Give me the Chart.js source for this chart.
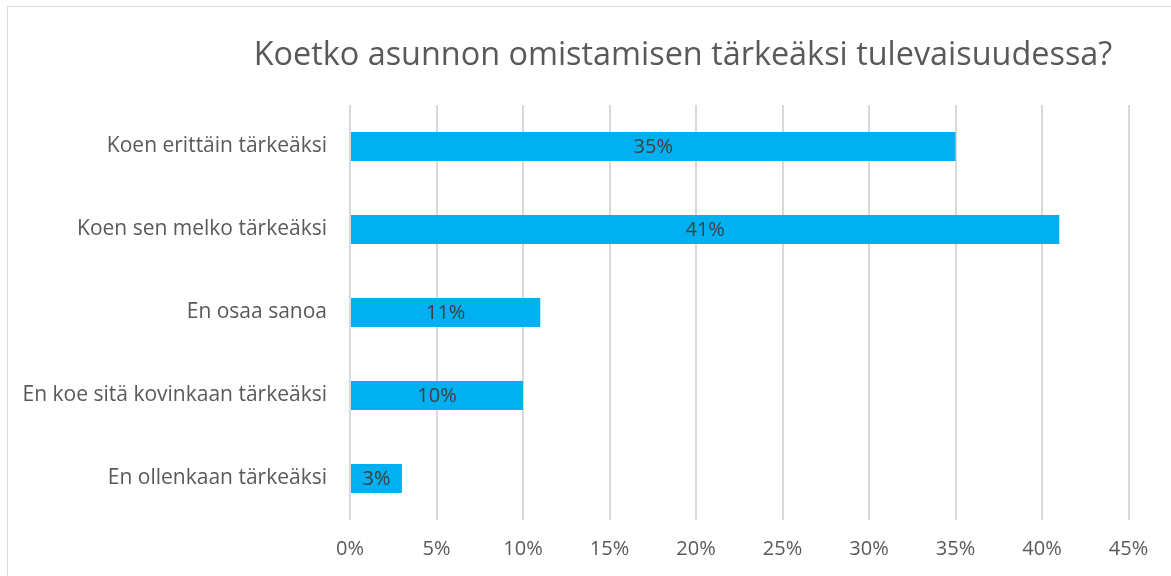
<!DOCTYPE html>
<html>
<head>
<meta charset="utf-8">
<script src="https://cdn.jsdelivr.net/npm/chart.js@4/dist/chart.umd.min.js"></script>
<style>
  html, body { margin: 0; padding: 0; background: #fff; }
  #wrap { position: relative; width: 1171px; height: 576px; overflow: hidden; }
  #frame { position: absolute; left: 7px; top: 6px; width: 1180px; height: 600px; border: 1px solid #d9d9d9; box-sizing: border-box; }
  canvas { position: absolute; left: 0; top: 0; }
</style>
</head>
<body>
<div id="wrap">
  <div id="frame"></div>
  <canvas id="myChart" width="1171" height="576"></canvas>
</div>
<script>
const chartTitle = 'Koetko asunnon omistamisen tärkeäksi tulevaisuudessa?';
const categories = [
    'Koen erittäin tärkeäksi',
    'Koen sen melko tärkeäksi',
    'En osaa sanoa',
    'En koe sitä kovinkaan tärkeäksi',
    'En ollenkaan tärkeäksi'
];
const percentValues = [35, 41, 11, 10, 3];
const tickValues = [0, 5, 10, 15, 20, 25, 30, 35, 40, 45];

const fontFamily = '"Open Sans", "Noto Sans", sans-serif';

// title is drawn by hand so it can sit off-centre like the original
const titleDraw = {
    id: 'titleDraw',
    afterDraw(chart){
        const ctx = chart.ctx;
        ctx.save();
        ctx.font = '32.4px ' + fontFamily;
        ctx.fillStyle = '#595959';
        ctx.textAlign = 'center';
        ctx.textBaseline = 'middle';
        ctx.fillText(chartTitle, 683, 56);
        ctx.restore();
    }
};

// simple label drawer, no datalabels plugin offline
const barLabels = {
    id: 'barLabels',
    afterDatasetsDraw(chart){
        const ctx = chart.ctx;
        const meta = chart.getDatasetMeta(0);
        ctx.save();
        ctx.font = '20px ' + fontFamily;
        ctx.fillStyle = '#404040';
        ctx.textAlign = 'center';
        ctx.textBaseline = 'middle';
        meta.data.forEach((bar, i)=>{
            const mid = (bar.x + bar.base) / 2;
            ctx.fillText(percentValues[i] + '%', mid, bar.y + 1);
        });
        ctx.restore();
    }
};

document.addEventListener("DOMContentLoaded", ()=>{
    const ctx = document.getElementById('myChart').getContext('2d');
    new Chart(ctx, {
        type: 'bar',
        data: {
            labels: categories,
            datasets: [{
                data: percentValues,
                backgroundColor: '#00B0F0',
                borderWidth: 0,
                barPercentage: 0.35,
                categoryPercentage: 1
            }]
        },
        options: {
            indexAxis: 'y',
            responsive: false,
            animation: false,
            layout: { padding: { left: 0, right: 42.5, top: 105, bottom: 0 } },
            plugins: {
                legend: { display: false },
                tooltip: { enabled: false },
                title: { display: false }
            },
            scales: {
                x: {
                    min: 0,
                    max: 45,
                    afterBuildTicks: (scale)=>{
                        scale.ticks = tickValues.map(v=>({ value: v }));
                    },
                    afterFit: (scale)=>{ scale.height = 56; },
                    grid: { color: '#d9d9d9', lineWidth: 2, drawTicks: false },
                    border: { display: false },
                    ticks: {
                        color: '#595959',
                        padding: 17,
                        font: { family: fontFamily, size: 20 },
                        callback: v => v + '%'
                    }
                },
                y: {
                    afterFit: (scale)=>{ scale.width = 350; },
                    grid: { display: false, drawTicks: false },
                    border: { display: false },
                    ticks: {
                        color: '#595959',
                        padding: 23,
                        font: { family: fontFamily, size: 21 }
                    }
                }
            }
        },
        plugins: [barLabels, titleDraw]
    });
});
</script>
</body>
</html>
